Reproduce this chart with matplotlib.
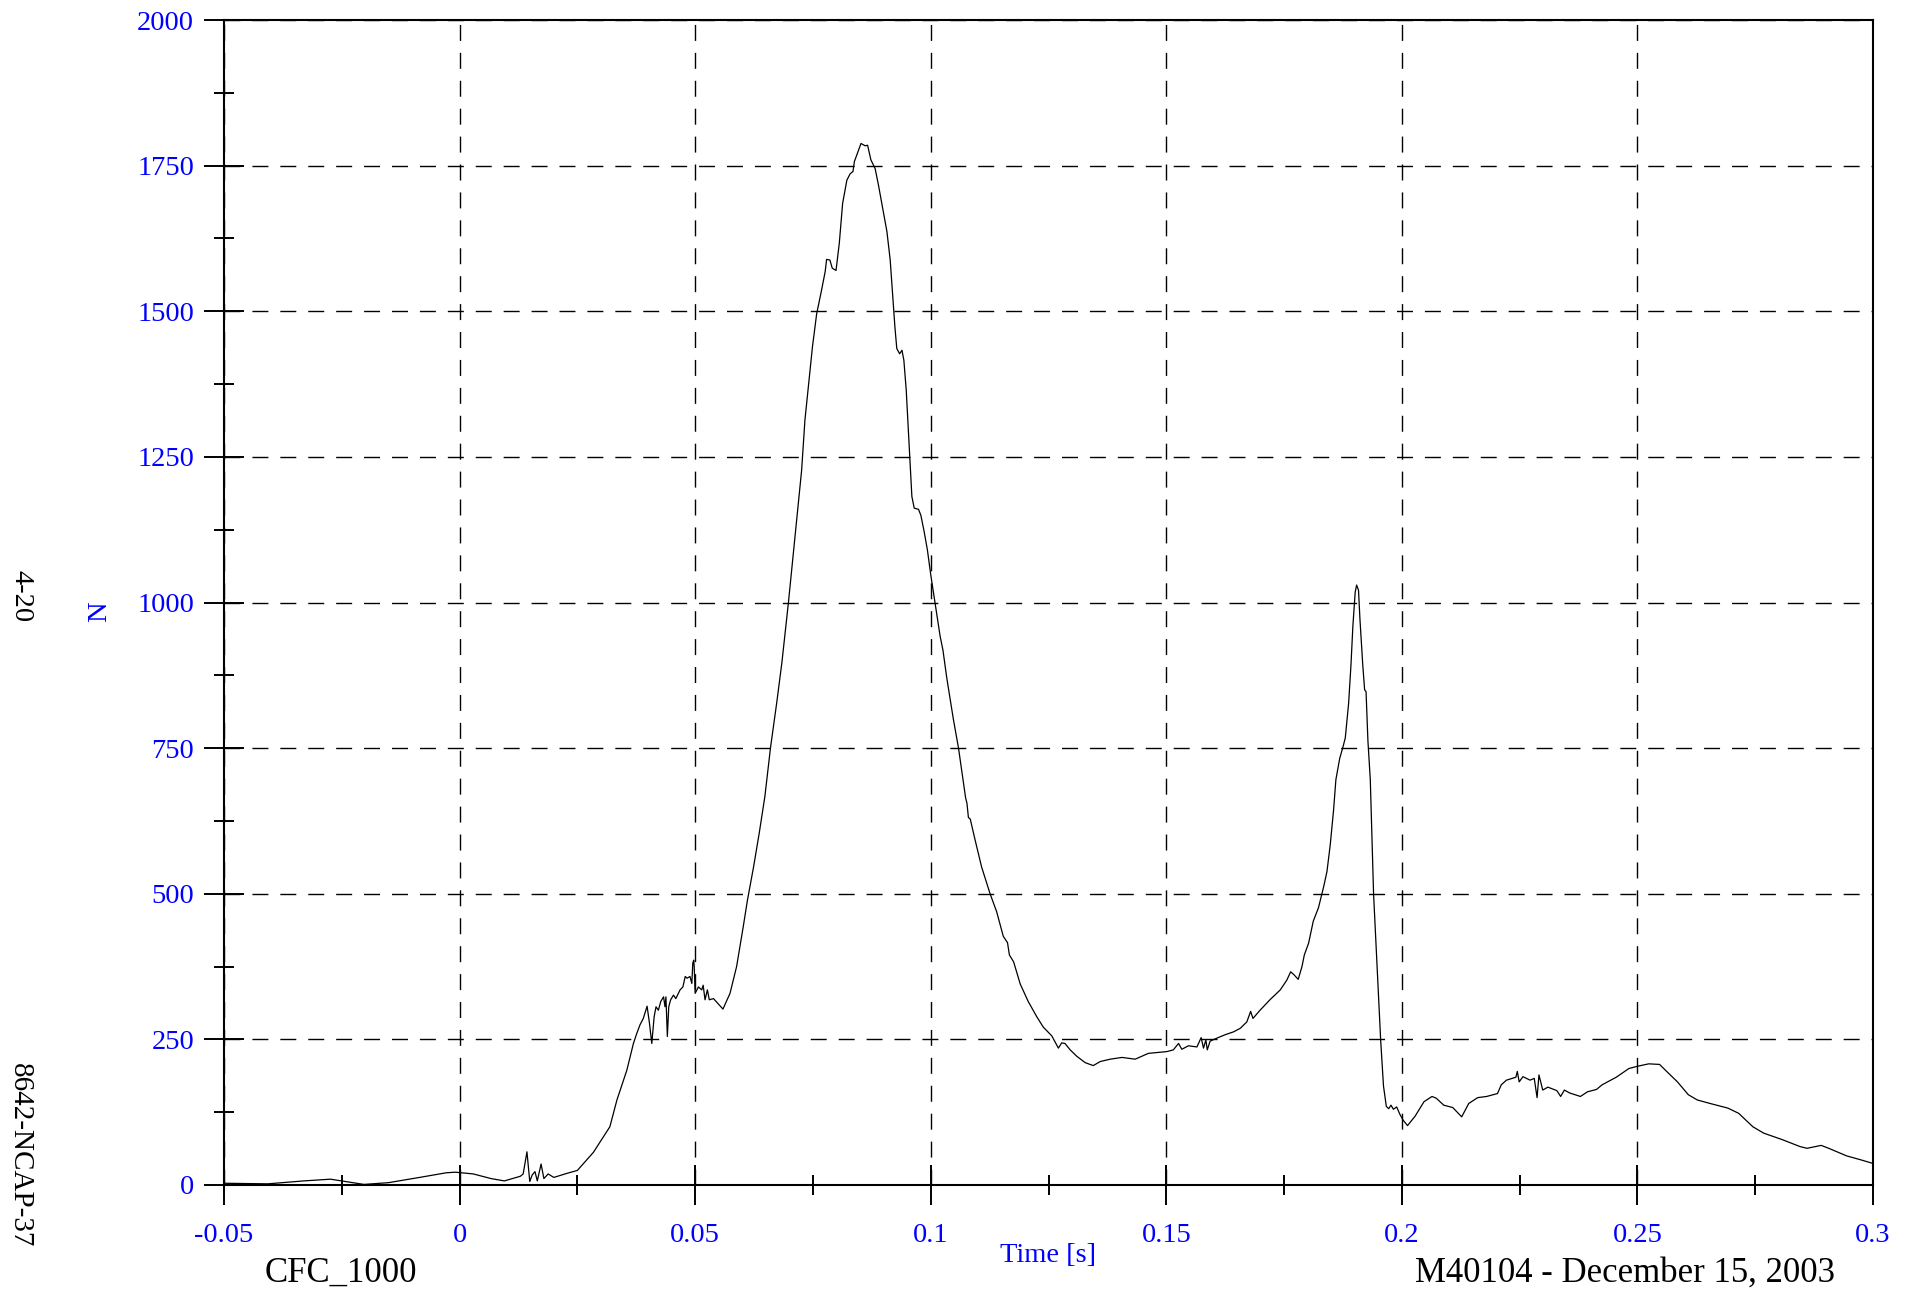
import matplotlib
matplotlib.use("Agg")
import matplotlib.pyplot as plt
from matplotlib.ticker import MultipleLocator, FixedLocator, FixedFormatter

# ---------------- data ----------------
time_s = [
    -0.0500, -0.0407, -0.0331, -0.0274, -0.0227, -0.0203, -0.0151, -0.0085, -0.0028, -0.0009,
    0.0029, 0.0067, 0.0095, 0.0129, 0.0135, 0.0143, 0.0149, 0.0154, 0.0160, 0.0165,
    0.0173, 0.0179, 0.0188, 0.0200, 0.0228, 0.0250, 0.0284, 0.0319, 0.0334, 0.0355,
    0.0369, 0.0376, 0.0383, 0.0390, 0.0398, 0.0403, 0.0408, 0.0413, 0.0417, 0.0422,
    0.0427, 0.0433, 0.0436, 0.0438, 0.0441, 0.0444, 0.0448, 0.0454, 0.0459, 0.0468,
    0.0474, 0.0479, 0.0483, 0.0489, 0.0493, 0.0495, 0.0497, 0.0498, 0.0500, 0.0507,
    0.0514, 0.0517, 0.0521, 0.0526, 0.0530, 0.0539, 0.0559, 0.0574, 0.0588, 0.0602,
    0.0611, 0.0624, 0.0636, 0.0648, 0.0660, 0.0673, 0.0684, 0.0698, 0.0712, 0.0726,
    0.0733, 0.0749, 0.0758, 0.0767, 0.0776, 0.0779, 0.0786, 0.0791, 0.0799, 0.0806,
    0.0813, 0.0822, 0.0829, 0.0835, 0.0838, 0.0843, 0.0852, 0.0861, 0.0866, 0.0873,
    0.0882, 0.0889, 0.0898, 0.0907, 0.0914, 0.0919, 0.0924, 0.0928, 0.0934, 0.0939,
    0.0943, 0.0948, 0.0953, 0.0960, 0.0965, 0.0974, 0.0979, 0.0986, 0.0993, 0.1000,
    0.1009, 0.1020, 0.1026, 0.1034, 0.1048, 0.1059, 0.1069, 0.1074, 0.1077, 0.1080,
    0.1084, 0.1094, 0.1108, 0.1126, 0.1140, 0.1154, 0.1163, 0.1167, 0.1176, 0.1190,
    0.1207, 0.1225, 0.1239, 0.1257, 0.1271, 0.1278, 0.1285, 0.1296, 0.1310, 0.1328,
    0.1345, 0.1360, 0.1381, 0.1406, 0.1434, 0.1462, 0.1501, 0.1515, 0.1526, 0.1533,
    0.1547, 0.1565, 0.1574, 0.1579, 0.1584, 0.1587, 0.1593, 0.1607, 0.1625, 0.1643,
    0.1657, 0.1671, 0.1679, 0.1684, 0.1699, 0.1720, 0.1742, 0.1756, 0.1764, 0.1771,
    0.1780, 0.1788, 0.1793, 0.1802, 0.1812, 0.1823, 0.1834, 0.1841, 0.1848, 0.1855,
    0.1860, 0.1868, 0.1876, 0.1880, 0.1887, 0.1892, 0.1896, 0.1901, 0.1904, 0.1908,
    0.1911, 0.1917, 0.1921, 0.1924, 0.1928, 0.1933, 0.1940, 0.1948, 0.1955, 0.1961,
    0.1967, 0.1972, 0.1977, 0.1982, 0.1989, 0.1996, 0.2003, 0.2012, 0.2021, 0.2028,
    0.2047, 0.2064, 0.2073, 0.2089, 0.2108, 0.2127, 0.2142, 0.2161, 0.2180, 0.2203,
    0.2211, 0.2222, 0.2242, 0.2245, 0.2249, 0.2257, 0.2272, 0.2281, 0.2287, 0.2291,
    0.2299, 0.2310, 0.2329, 0.2337, 0.2345, 0.2356, 0.2379, 0.2394, 0.2413, 0.2425,
    0.2455, 0.2482, 0.2501, 0.2524, 0.2547, 0.2562, 0.2585, 0.2608, 0.2627, 0.2654,
    0.2692, 0.2715, 0.2745, 0.2768, 0.2807, 0.2845, 0.2860, 0.2890, 0.2906, 0.2944,
    0.2975, 0.3000,
]
force_N = [
    3, 2, 7, 10, 4, 1, 4, 13, 21, 22,
    19, 11, 7, 15, 19, 57, 6, 17, 23, 7,
    36, 11, 19, 13, 20, 25, 56, 100, 146, 197,
    243, 260, 275, 286, 307, 278, 243, 289, 306, 300,
    315, 323, 306, 323, 255, 306, 318, 326, 320, 335,
    340, 358, 355, 358, 346, 381, 386, 375, 329, 340,
    335, 343, 318, 335, 318, 320, 302, 329, 375, 443,
    489, 546, 604, 667, 751, 827, 896, 1000, 1113, 1227,
    1313, 1439, 1496, 1531, 1568, 1589, 1588, 1574, 1570, 1617,
    1685, 1725, 1736, 1740, 1757, 1768, 1788, 1784, 1785, 1760,
    1745, 1717, 1677, 1637, 1588, 1531, 1473, 1436, 1427, 1433,
    1416, 1365, 1290, 1182, 1162, 1160, 1150, 1122, 1090, 1048,
    1000, 942, 918, 871, 800, 750, 694, 665, 655, 631,
    628, 593, 546, 500, 469, 427, 416, 395, 383, 345,
    315, 289, 271, 256, 235, 244, 243, 232, 221, 210,
    205, 212, 216, 219, 216, 226, 229, 232, 243, 233,
    239, 237, 253, 235, 249, 232, 247, 252, 258, 263,
    269, 280, 298, 286, 300, 318, 335, 352, 366, 361,
    353, 375, 395, 415, 453, 476, 512, 538, 584, 643,
    696, 732, 755, 768, 827, 893, 959, 1018, 1030, 1021,
    972, 893, 850, 847, 762, 696, 499, 367, 249, 170,
    135, 131, 137, 130, 134, 121, 111, 102, 111, 118,
    143, 152, 149, 137, 133, 117, 140, 150, 152, 157,
    172, 180, 185, 195, 177, 186, 180, 183, 150, 189,
    163, 168, 162, 152, 163, 158, 152, 160, 164, 172,
    185, 200, 204, 208, 207, 195, 177, 155, 146, 140,
    132, 123, 100, 89, 78, 66, 63, 68, 63, 50,
    43, 37,
]

x_ticks = [-0.05, 0.0, 0.05, 0.1, 0.15, 0.2, 0.25, 0.3]
x_tick_labels = ["-0.05", "0", "0.05", "0.1", "0.15", "0.2", "0.25", "0.3"]
y_ticks = [0, 250, 500, 750, 1000, 1250, 1500, 1750, 2000]
y_tick_labels = ["0", "250", "500", "750", "1000", "1250", "1500", "1750", "2000"]

x_label = "Time [s]"
y_label = "N"
left_note = "4-20"
left_bottom_note = "8642-NCAP-37"
filter_note = "CFC_1000"
test_note = "M40104 - December 15, 2003"

# ---------------- figure ----------------
W, H = 1914, 1291
DPI = 100
plt.rcParams["font.family"] = ["Liberation Serif", "DejaVu Serif"]

fig = plt.figure(figsize=(W / DPI, H / DPI), dpi=DPI)
ax = fig.add_axes([224 / W, (H - 1185) / H, 1649 / W, 1165 / H])

ax.plot(time_s, force_N, color="black", linewidth=0.9)

ax.set_xlim(-0.05, 0.3)
ax.set_ylim(0, 2000)

ax.xaxis.set_major_locator(FixedLocator(x_ticks))
ax.xaxis.set_major_formatter(FixedFormatter(x_tick_labels))
ax.yaxis.set_major_locator(FixedLocator(y_ticks))
ax.yaxis.set_major_formatter(FixedFormatter(y_tick_labels))
ax.xaxis.set_minor_locator(MultipleLocator(0.025))
ax.yaxis.set_minor_locator(MultipleLocator(125))

ax.grid(True, which="major", color="black", linestyle=(0, (11.5, 8.6)), linewidth=1.0)
ax.set_axisbelow(True)

for sp in ax.spines.values():
    sp.set_linewidth(1.5)
    sp.set_color("black")

blue = "#0000FF"
ax.tick_params(axis="both", which="major", direction="inout", length=29, width=1.4,
               color="black", labelcolor=blue, labelsize=20.5)
ax.tick_params(axis="both", which="minor", direction="inout", length=15, width=1.4, color="black")
ax.tick_params(axis="x", which="major", pad=13)
ax.tick_params(axis="y", which="major", pad=7)
ax.tick_params(top=False, right=False, which="both")

fig.text(1048.5 / W, 1 - 1255 / H, x_label, color=blue, fontsize=20.5, ha="center", va="center")
fig.text(100 / W, 1 - 612 / H, y_label, color=blue, fontsize=20.5, ha="center", va="center", rotation=90)
fig.text(21 / W, 1 - 596 / H, left_note, color="black", fontsize=20.5, ha="center", va="center", rotation=-90)
fig.text(20 / W, 1 - 1155 / H, left_bottom_note, color="black", fontsize=21, ha="center", va="center", rotation=-90)
fig.text(265 / W, 1 - 1282 / H, filter_note, color="black", fontsize=25, ha="left", va="baseline")
fig.text(1835 / W, 1 - 1282 / H, test_note, color="black", fontsize=25, ha="right", va="baseline")

fig.savefig("out.png", dpi=DPI, facecolor="white")
